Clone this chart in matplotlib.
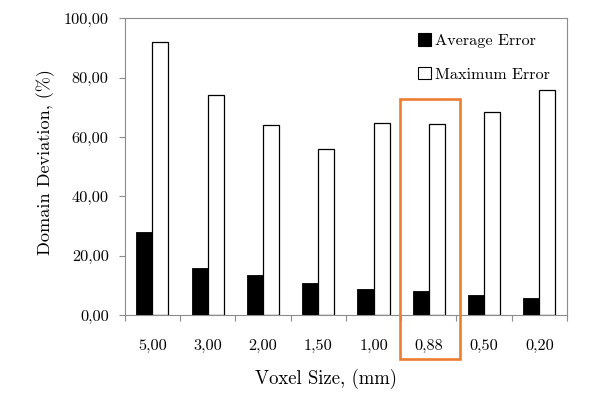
import numpy as np
import matplotlib
matplotlib.use("Agg")
import matplotlib.pyplot as plt
from matplotlib.patches import Patch, Rectangle

plt.rcParams['font.family'] = ['cmr10', 'DejaVu Serif']
plt.rcParams['axes.unicode_minus'] = False

voxel_labels = ["5,00", "3,00", "2,00", "1,50", "1,00", "0,88", "0,50", "0,20"]
average_error = [28.0, 15.8, 13.5, 10.7, 8.6, 8.2, 6.7, 5.6]
maximum_error = [92.0, 74.0, 64.0, 56.0, 64.8, 64.5, 68.3, 75.7]
ytick_values = [0, 20, 40, 60, 80, 100]
ytick_labels = ["0,00", "20,00", "40,00", "60,00", "80,00", "100,00"]
highlight = 5  # 0,88

grey = "#8c8c8c"
fig = plt.figure(figsize=(6.15, 3.94), dpi=100)
ax = fig.add_axes([0.2028, 0.2005, 0.7192, 0.7531])

x = np.arange(len(voxel_labels))
w = 0.29
ax.bar(x - w / 2, average_error, w, color="black", edgecolor="black", linewidth=0.6)
ax.bar(x + w / 2, maximum_error, w, color="white", edgecolor="black", linewidth=0.9)

ax.set_xlim(-0.5, len(voxel_labels) - 0.5)
ax.set_ylim(0, 100)

ax.set_xticks(x)
ax.set_xticklabels(voxel_labels)
ax.set_xticks(np.arange(-0.5, len(voxel_labels)), minor=True)
ax.tick_params(axis="x", which="major", length=0, pad=17, labelsize=11.7)
ax.tick_params(axis="x", which="minor", length=4.5, color=grey, width=0.8)

ax.set_yticks(ytick_values)
ax.set_yticklabels(ytick_labels)
ax.tick_params(axis="y", length=4.5, color=grey, width=0.8, pad=7, labelsize=11.7)

for s in ax.spines.values():
    s.set_color(grey)
    s.set_linewidth(0.8)

ax.set_xlabel("Voxel Size, (mm)", fontsize=13.5)
ax.xaxis.set_label_coords(0.456, -0.182)
ax.set_ylabel("Domain Deviation, (%)", fontsize=13.1)
ax.yaxis.set_label_coords(-0.157, 0.515)

handles = [Patch(facecolor="black", edgecolor="black", linewidth=0.8),
           Patch(facecolor="white", edgecolor="black", linewidth=0.8)]
ax.legend(handles, ["Average Error", "Maximum Error"], loc="upper left",
          bbox_to_anchor=(0.663, 0.95), frameon=False, fontsize=11.7,
          handlelength=0.8, handleheight=0.8, handletextpad=0.25,
          labelspacing=1.17, borderpad=0, borderaxespad=0)

# orange box around the 0,88 group
rect = Rectangle((highlight - 0.52, -14.8), 1.09, 87.7, fill=False,
                 edgecolor="#ed7d31", linewidth=1.9, clip_on=False, zorder=5)
ax.add_patch(rect)

fig.savefig("out.png", dpi=100)
